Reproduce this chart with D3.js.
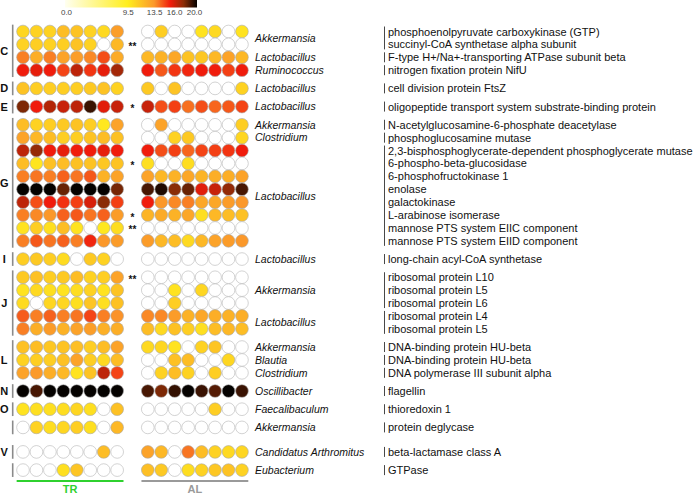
<!DOCTYPE html>
<html>
<head>
<meta charset="utf-8">
<script src="https://cdn.jsdelivr.net/npm/d3@7"></script>
<style>
  body { margin: 0; background: #fff; }
  svg { display: block; font-family: Arial, "Liberation Sans", sans-serif; }
</style>
</head>
<body>
<svg id="chart" width="699" height="495"></svg>
<script>
// Functional groups (row group letter), blank ones have a bar but no letter
const groupLabels = ["C", "D", "E", "G", "I", "J", "L", "N", "O", "", "V", ""];
const rowGroup = [0, 0, 0, 0, 1, 2, 3, 3, 3, 3, 3, 3, 3, 3, 3, 3, 4, 5, 5, 5, 5, 5, 6, 6, 6, 7, 8, 9, 10, 11];

const genera = [
    "Akkermansia", "Akkermansia", "Lactobacillus", "Ruminococcus",
    "Lactobacillus",
    "Lactobacillus",
    "Akkermansia", "Clostridium", "Lactobacillus", "Lactobacillus", "Lactobacillus",
    "Lactobacillus", "Lactobacillus", "Lactobacillus", "Lactobacillus", "Lactobacillus",
    "Lactobacillus",
    "Akkermansia", "Akkermansia", "Akkermansia", "Lactobacillus", "Lactobacillus",
    "Akkermansia", "Blautia", "Clostridium",
    "Oscillibacter",
    "Faecalibaculum",
    "Akkermansia",
    "Candidatus Arthromitus",
    "Eubacterium"
];

const proteins = [
    "phosphoenolpyruvate carboxykinase (GTP)",
    "succinyl-CoA synthetase alpha subunit",
    "F-type H+/Na+-transporting ATPase subunit beta",
    "nitrogen fixation protein NifU",
    "cell division protein FtsZ",
    "oligopeptide transport system substrate-binding protein",
    "N-acetylglucosamine-6-phosphate deacetylase",
    "phosphoglucosamine mutase",
    "2,3-bisphosphoglycerate-dependent phosphoglycerate mutase",
    "6-phospho-beta-glucosidase",
    "6-phosphofructokinase 1",
    "enolase",
    "galactokinase",
    "L-arabinose isomerase",
    "mannose PTS system EIIC component",
    "mannose PTS system EIID component",
    "long-chain acyl-CoA synthetase",
    "ribosomal protein L10",
    "ribosomal protein L5",
    "ribosomal protein L6",
    "ribosomal protein L4",
    "ribosomal protein L5",
    "DNA-binding protein HU-beta",
    "DNA-binding protein HU-beta",
    "DNA polymerase III subunit alpha",
    "flagellin",
    "thioredoxin 1",
    "protein deglycase",
    "beta-lactamase class A",
    "GTPase"
];

const stars = ["", "**", "", "", "", "*", "", "", "", "*", "", "", "", "*", "**", "",
    "", "**", "", "", "", "", "", "", "", "", "", "", "", ""];

// Abundance values, 8 samples per condition (null = not detected)
const trValues = [
    [10.6, 10.8, 10.8, 11.8, 11.5, 10.8, 10.5, 13.2],
    [10.8, 11.0, 10.8, 11.0, 11.5, 10.8, null, 12.0],
    [14.0, 12.5, 14.0, 13.0, 13.2, 13.8, 15.0, 12.6],
    [16.0, 16.2, 16.0, 15.2, 17.0, 15.5, 16.2, 17.5],
    [11.5, 11.0, 11.0, 11.0, 11.0, 11.2, 11.5, 10.8],
    [18.2, 16.0, 17.2, 16.8, 17.0, 19.2, 16.3, 16.8],
    [11.8, 10.8, 11.0, 11.2, 11.5, 11.0, 9.8, 13.0],
    [13.0, 12.0, 11.8, 11.0, 11.0, 11.5, 11.8, 11.6],
    [17.0, 17.8, 16.0, 16.2, 16.0, 16.0, 16.2, 16.0],
    [11.8, 9.9, 11.6, 11.8, 11.6, 11.5, 11.3, 11.5],
    [14.0, 14.2, 14.0, 14.6, 14.2, 14.8, 12.3, 13.0],
    [20.0, 20.0, 20.0, 18.5, 20.0, 20.0, 20.0, 18.3],
    [17.0, 15.0, 16.0, 15.6, 15.3, 16.5, 18.0, 15.3],
    [14.0, 13.8, 13.5, 14.6, 14.8, 14.2, 14.6, 13.3],
    [10.0, 11.0, 10.2, 11.8, 10.0, null, 9.8, 10.3],
    [14.0, 14.8, 14.2, 14.6, 14.0, 15.8, 13.5, 13.3],
    [11.0, 11.2, 11.0, 10.4, null, 11.2, 10.8, null],
    [11.2, 11.6, 11.0, 11.2, 11.8, 10.8, 11.0, 13.0],
    [10.0, 10.5, 10.2, 10.0, 10.3, 10.8, 10.0, 11.5],
    [10.4, null, 10.6, 10.6, 10.2, 11.4, 10.2, 11.6],
    [14.7, 14.0, 14.6, 14.0, 14.2, 15.2, 14.0, 13.6],
    [14.0, 12.5, 13.3, 12.3, 13.0, 13.2, 12.4, 12.5],
    [11.6, 11.8, 11.3, 11.5, 11.7, 11.0, 11.8, 13.0],
    [10.8, 11.0, 11.0, 11.6, 13.0, 11.0, 10.5, 11.8],
    [13.0, 13.4, 12.5, 12.0, 10.0, 11.5, 17.0, 15.2],
    [20.0, 19.0, 20.0, 20.0, 20.0, 20.0, 20.0, 20.0],
    [10.0, 10.2, 10.2, 10.3, 10.6, 10.2, null, 11.6],
    [null, 10.8, 10.3, 10.6, 11.0, 10.2, null, 12.0],
    [null, null, null, null, null, null, 11.8, null],
    [null, null, null, 10.2, 11.4, null, null, null]
];

const alValues = [
    [null, 11.0, null, null, 10.0, 10.5, null, 10.0],
    [null, null, null, null, null, null, null, null],
    [12.0, 12.3, 12.8, 11.5, 11.3, 12.0, 13.0, 12.0],
    [16.0, 14.8, 15.5, 15.8, 16.0, 16.0, 15.3, 16.0],
    [11.2, null, 11.5, null, null, null, null, 10.8],
    [16.8, 15.0, 15.3, 14.3, 15.0, 14.5, 14.8, 15.2],
    [null, 13.0, null, null, null, null, null, 11.0],
    [null, null, 10.8, 11.2, null, null, null, 10.6],
    [16.0, 15.0, 15.3, 14.5, 15.2, 15.3, 15.5, 16.0],
    [10.2, null, null, 10.3, null, null, null, null],
    [13.0, 12.0, 12.3, 12.8, 12.2, 12.5, 12.5, 13.0],
    [19.0, 19.6, 18.0, 18.5, 16.3, 16.8, 17.8, 19.0],
    [16.0, 13.5, 13.8, 14.0, 12.8, 12.8, 13.3, 13.5],
    [12.2, 12.6, 12.3, 12.8, 10.2, 12.0, 11.8, 11.6],
    [null, null, null, null, null, null, null, null],
    [13.3, 12.0, 11.8, 10.5, 12.0, 13.0, 13.3, 13.5],
    [null, null, null, null, null, null, null, null],
    [null, null, null, null, null, null, null, null],
    [null, null, 10.0, null, 10.6, null, null, null],
    [null, null, 11.0, null, null, null, null, null],
    [13.8, 13.8, 13.3, 12.3, 12.8, 12.5, 12.3, 12.5],
    [11.8, 10.5, 11.6, 11.0, 10.2, 11.8, 12.0, 11.8],
    [10.5, 10.6, 10.0, null, 10.8, 11.4, null, null],
    [null, null, 11.6, 11.8, null, null, 10.6, null],
    [null, 10.8, 11.8, 10.8, null, 11.0, null, null],
    [19.0, 18.2, 19.3, 20.0, 19.2, 18.8, 20.0, 19.2],
    [null, null, null, null, null, 11.0, null, null],
    [null, null, null, null, null, null, null, null],
    [13.0, 12.0, null, 14.2, 11.8, 10.8, 10.5, 10.6],
    [11.7, 11.2, null, 10.3, 10.8, 11.3, 11.5, 10.8]
];

const conditions = ["TR", "AL"];
const conditionColors = ["#2fd12f", "#9a9a9a"];
const legendTicks = [0, 9.5, 13.5, 16, 20];
const colorStops = [0, 9.5, 13.5, 16, 18, 20];
const colorRange = ["#fffff0", "#ffee1e", "#fb982a", "#f01c0c", "#8a2c06", "#050200"];

const svg = d3.select("#chart");
const nSamples = 8;
const r = 6.35;

const color = d3.scaleLinear().domain(colorStops).range(colorRange).clamp(true);

// Rows: uniform step with an extra gap between groups
const groupGap = 0.41, extraGap = 0.49;
const slot = rowGroup.map((g, i) => i + g * groupGap + (g >= 10 ? extraGap : 0));
const y = d3.scaleLinear().domain([0, 1]).range([31.5, 44.4]);

const condX = d3.scaleOrdinal().domain(conditions).range([23, 147.8]);
const sampleX = d3.scaleLinear().domain([0, 1]).range([0, 13.45]);

// Legend
const legendX = d3.scaleLinear().domain([0, 20]).range([65, 197]);
const defs = svg.append("defs");
const grad = defs.append("linearGradient").attr("id", "legend-grad");
colorStops.forEach(v => {
    grad.append("stop").attr("offset", (v / 20 * 100) + "%").attr("stop-color", color(v));
});
svg.append("rect")
    .attr("x", legendX(0)).attr("y", 0)
    .attr("width", legendX(20) - legendX(0)).attr("height", 7.5)
    .attr("fill", "url(#legend-grad)");
const legendAxis = svg.append("g")
    .attr("transform", "translate(0,7.5)")
    .call(d3.axisBottom(legendX).tickValues(legendTicks).tickSize(0).tickPadding(2).tickFormat(d3.format(".1f")));
legendAxis.select(".domain").remove();
// nudge the crowded labels apart a little, as in the source figure
legendAxis.selectAll("text")
    .attr("font-size", 8)
    .attr("fill", "#444")
    .attr("font-family", null)
    .attr("dx", d => d === 16 ? 3.5 : d === 20 ? -3 : d === 0 ? 1 : 0);

// Circles
const rows = svg.append("g");
trValues.forEach((vals, i) => {
    [vals, alValues[i]].forEach((set, c) => {
        rows.selectAll(null)
            .data(set)
            .enter()
            .append("circle")
            .attr("cx", (d, j) => condX(conditions[c]) + sampleX(j))
            .attr("cy", y(slot[i]))
            .attr("r", r)
            .attr("fill", d => d === null ? "#fff" : color(d))
            .attr("stroke", d => d === null ? "#b5b5b5" : "#a8a8a8")
            .attr("stroke-width", 0.6);
    });
});

// Significance stars
svg.append("g").selectAll("text")
    .data(stars)
    .enter()
    .append("text")
    .attr("x", 132.5)
    .attr("y", (d, i) => y(slot[i]) + 5.5)
    .attr("text-anchor", "middle")
    .attr("font-size", 10)
    .attr("font-weight", "bold")
    .attr("fill", "#111")
    .text(d => d);

// Group letters and bars
groupLabels.forEach((lab, g) => {
    const idx = d3.range(rowGroup.length).filter(i => rowGroup[i] === g);
    const y0 = y(slot[idx[0]]) - r - 0.5;
    const y1 = y(slot[idx[idx.length - 1]]) + r + 0.5;
    svg.append("line")
        .attr("x1", 12.7).attr("x2", 12.7)
        .attr("y1", y0).attr("y2", y1)
        .attr("stroke", "#8a8a8a").attr("stroke-width", 1.6);
    if (lab) {
        svg.append("text")
            .attr("x", 4.2).attr("y", (y0 + y1) / 2 + 4)
            .attr("text-anchor", "middle")
            .attr("font-size", 11).attr("font-weight", "bold").attr("fill", "#111")
            .text(lab);
    }
});

// Genus segments: consecutive rows with same genus within a group
const segments = [];
genera.forEach((gname, i) => {
    const last = segments[segments.length - 1];
    if (last && last.genus === gname && rowGroup[last.end] === rowGroup[i] && last.end === i - 1) {
        last.end = i;
    } else {
        segments.push({ genus: gname, start: i, end: i });
    }
});

svg.append("g").selectAll("text")
    .data(segments)
    .enter()
    .append("text")
    .attr("x", 255)
    .attr("y", d => (y(slot[d.start]) + y(slot[d.end])) / 2 + 3.8)
    .attr("font-size", 10.5)
    .attr("font-style", "italic")
    .attr("fill", "#111")
    .text(d => d.genus);

svg.append("g").selectAll("line")
    .data(segments)
    .enter()
    .append("line")
    .attr("x1", 384.5).attr("x2", 384.5)
    .attr("y1", d => y(slot[d.start]) - 5)
    .attr("y2", d => y(slot[d.end]) + 5)
    .attr("stroke", "#333").attr("stroke-width", 0.9);

// Protein labels
svg.append("g").selectAll("text")
    .data(proteins)
    .enter()
    .append("text")
    .attr("x", 388)
    .attr("y", (d, i) => y(slot[i]) + 4)
    .attr("font-size", 11)
    .attr("fill", "#111")
    .text(d => d);

// Condition underlines and labels
conditions.forEach((cond, c) => {
    const x0 = condX(cond) - r, x1 = condX(cond) + sampleX(nSamples - 1) + r;
    svg.append("line")
        .attr("x1", x0).attr("x2", x1)
        .attr("y1", 481).attr("y2", 481)
        .attr("stroke", conditionColors[c]).attr("stroke-width", 1.8);
    svg.append("text")
        .attr("x", (x0 + x1) / 2).attr("y", 493)
        .attr("text-anchor", "middle")
        .attr("font-size", 11).attr("font-weight", "bold")
        .attr("fill", conditionColors[c])
        .text(cond);
});
</script>
</body>
</html>
